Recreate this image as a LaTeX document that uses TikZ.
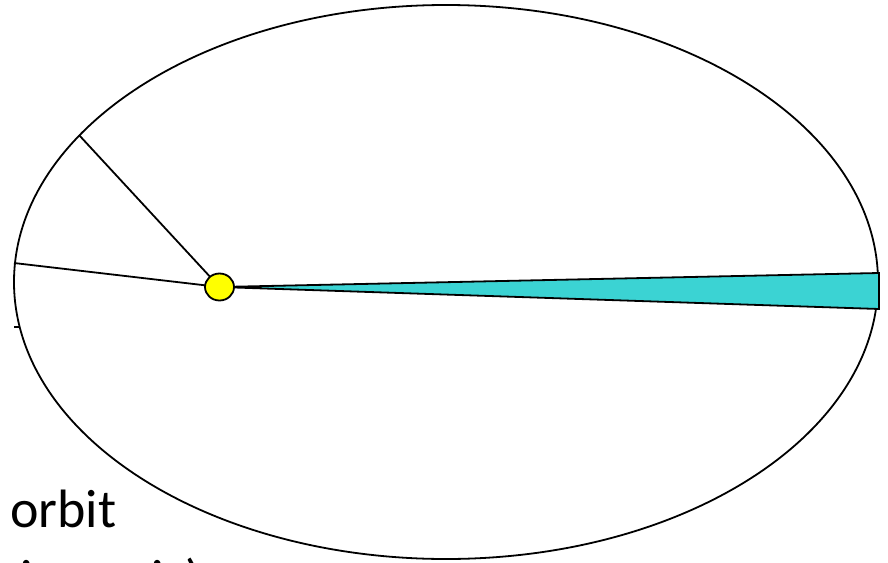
\documentclass[tikz,border=0pt]{standalone}
\usepackage{fontspec}
\setmainfont{Carlito}
\usetikzlibrary{shapes.geometric}
\definecolor{wedgecyan}{HTML}{3BD3D3}
\definecolor{sunyellow}{HTML}{FFFF00}

\begin{document}
\begin{tikzpicture}[x=1pt,y=-1pt,every node/.style={font=\fontsize{54}{64}\selectfont,inner sep=0pt},orb/.style={ellipse,draw=black,line width=1.8pt,minimum width=864pt,minimum height=554pt},radius line/.style={draw=black,line width=1.8pt},sweep/.style={fill=wedgecyan,draw=black,line width=1.8pt,line join=miter},star/.style={ellipse,draw=black,line width=1.8pt,fill=sunyellow,minimum width=29pt,minimum height=27pt}]
\useasboundingbox (0,0) rectangle (888,562);
\node[orb] (orbit) at (446,282) {};
\coordinate (focus) at (219.5,287);
\coordinate (r1) at (79,135); \coordinate (r2) at (14,263);
\coordinate (w1) at (879,273); \coordinate (w2) at (879,309);
\draw[radius line] (focus)--(r1); \draw[radius line] (focus)--(r2);
\draw[sweep] (focus)--(w1)--(w2)--cycle;
\node[star] (sun) at (focus) {};
\draw[line width=1.5pt] (14,327)--(19,327);
\node[anchor=base west] (lbl) at (10,527) {orbit};
\node[anchor=base west] (lbl2) at (20,597) {i.e. axis)};
\end{tikzpicture}
\end{document}
